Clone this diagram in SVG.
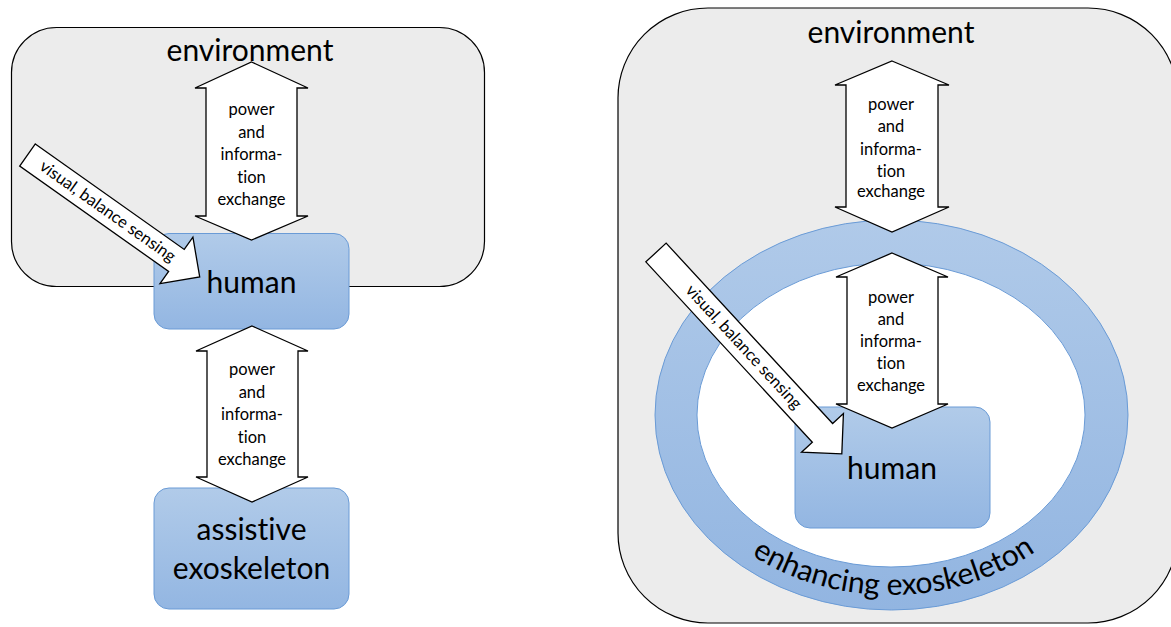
<svg xmlns="http://www.w3.org/2000/svg" width="1171" height="627" viewBox="0 0 1171 627">
  <style>
    text { font-variant-ligatures: none; font-feature-settings: "liga" 0; }
    .env { fill: #ececec; stroke: #000; stroke-width: 1.2; }
    .box { fill: url(#blueGrad); stroke: #6a9bd6; stroke-width: 1; }
    .arrow { fill: #fff; stroke: #000; stroke-width: 1.3; stroke-linejoin: miter; }
    .big { font-family: Lato, "Open Sans", sans-serif; font-size: 30px; fill: #000; text-anchor: middle; }
    .small { font-family: Lato, "Open Sans", sans-serif; font-size: 16.5px; fill: #000; text-anchor: middle; }
    .sense { font-family: Lato, "Open Sans", sans-serif; font-size: 16.5px; fill: #000; text-anchor: middle; }
  </style>
  <defs>
    <linearGradient id="blueGrad" x1="0" y1="0" x2="0" y2="1">
      <stop offset="0" stop-color="#b1cbe9"/>
      <stop offset="1" stop-color="#93b6e2"/>
    </linearGradient>
    <linearGradient id="ringGrad" gradientUnits="userSpaceOnUse" x1="0" y1="220" x2="0" y2="610">
      <stop offset="0" stop-color="#b0cae9"/>
      <stop offset="1" stop-color="#92b5e1"/>
    </linearGradient>
    <!-- baseline of the curved ring label: left to right along the lower half -->
    <path id="ringTextPath" d="M 669 415 A 222 180 0 0 0 1113 415"/>
  </defs>

  <!-- ===== Left: assistive exoskeleton ===== -->
  <g id="env-left">
    <rect class="env" x="11.5" y="27.5" width="473" height="259" rx="45" ry="45"/>
    <text class="big" x="250" y="61">environment</text>
  </g>
  <g id="human-left">
    <rect class="box" x="154" y="233.5" width="195" height="95.5" rx="15" ry="15"/>
    <text class="big" x="251.5" y="293">human</text>
  </g>
  <g id="exo-assistive">
    <rect class="box" x="154" y="488" width="195" height="121" rx="15" ry="15"/>
    <text class="big" x="251.5" y="540">assistive</text>
    <text class="big" x="251.5" y="579">exoskeleton</text>
  </g>

  <!-- ===== Right: enhancing exoskeleton ===== -->
  <g id="env-right">
    <rect class="env" x="618" y="8" width="560" height="615" rx="90" ry="90"/>
    <text class="big" x="891" y="43">environment</text>
  </g>
  <g id="exo-enhancing">
    <ellipse cx="891.5" cy="415" rx="236.5" ry="195" fill="url(#ringGrad)" stroke="#6a9bd6" stroke-width="1"/>
    <ellipse cx="891" cy="415" rx="194" ry="152" fill="#fff" stroke="#6a9bd6" stroke-width="1"/>
    <text class="big" font-size="29.5"><textPath href="#ringTextPath" startOffset="50.5%">enhancing exoskeleton</textPath></text>
  </g>
  <g id="human-right">
    <rect class="box" x="795" y="407" width="195" height="121" rx="15" ry="15"/>
    <text class="big" x="892" y="479">human</text>
  </g>

  <!-- ===== Connectors ===== -->
  <g id="connectors">
    <!-- environment <-> human (left) -->
    <g id="arrow-env-human-left">
      <polygon class="arrow" points="251.5,62 308,88 297,88 297,216 308,216 251.5,240 195,216 206,216 206,88 195,88"/>
      <text class="small"><tspan x="251.5" y="115">power</tspan><tspan x="251.5" y="137.5">and</tspan><tspan x="251.5" y="160">informa-</tspan><tspan x="251.5" y="182.5">tion</tspan><tspan x="251.5" y="205">exchange</tspan></text>
    </g>
    <!-- human <-> assistive exoskeleton -->
    <g id="arrow-human-exo">
      <polygon class="arrow" points="252,326 308,351 298,351 298,477 308,477 252,502 196,477 207,477 207,351 196,351"/>
      <text class="small"><tspan x="252" y="375">power</tspan><tspan x="252" y="397.5">and</tspan><tspan x="252" y="420">informa-</tspan><tspan x="252" y="442.5">tion</tspan><tspan x="252" y="465">exchange</tspan></text>
    </g>
    <!-- sensing input (left) -->
    <g id="arrow-sense-left" transform="translate(27.5,155) rotate(35.3)">
      <polygon class="arrow" points="0,-13.5 182.5,-13.5 182.5,-28.5 211,0 182.5,28.5 182.5,13.5 0,13.5"/>
      <text class="sense" x="98" y="5">visual, balance sensing</text>
    </g>

    <!-- environment <-> enhancing exoskeleton -->
    <g id="arrow-env-exo">
      <polygon class="arrow" points="892,61 949,85 938,85 938,207 949,207 892,232 835,207 846,207 846,85 835,85"/>
      <text class="small"><tspan x="891" y="110">power</tspan><tspan x="891" y="132">and</tspan><tspan x="891" y="154.5">informa-</tspan><tspan x="891" y="176.5">tion</tspan><tspan x="891" y="197">exchange</tspan></text>
    </g>
    <!-- enhancing exoskeleton <-> human -->
    <g id="arrow-exo-human">
      <polygon class="arrow" points="892,253 948,277 938,277 938,404 948,404 892,428 836,404 847,404 847,277 836,277"/>
      <text class="small"><tspan x="891" y="303">power</tspan><tspan x="891" y="325">and</tspan><tspan x="891" y="347">informa-</tspan><tspan x="891" y="369">tion</tspan><tspan x="891" y="391">exchange</tspan></text>
    </g>
    <!-- sensing input (right) -->
    <g id="arrow-sense-right" transform="translate(656,252.5) rotate(47.3)">
      <polygon class="arrow" points="0,-13.8 245.5,-13.8 245.5,-28.5 274,0 245.5,28.5 245.5,13.8 0,13.8"/>
      <text class="sense" x="129" y="5">visual, balance sensing</text>
    </g>
  </g>
</svg>
